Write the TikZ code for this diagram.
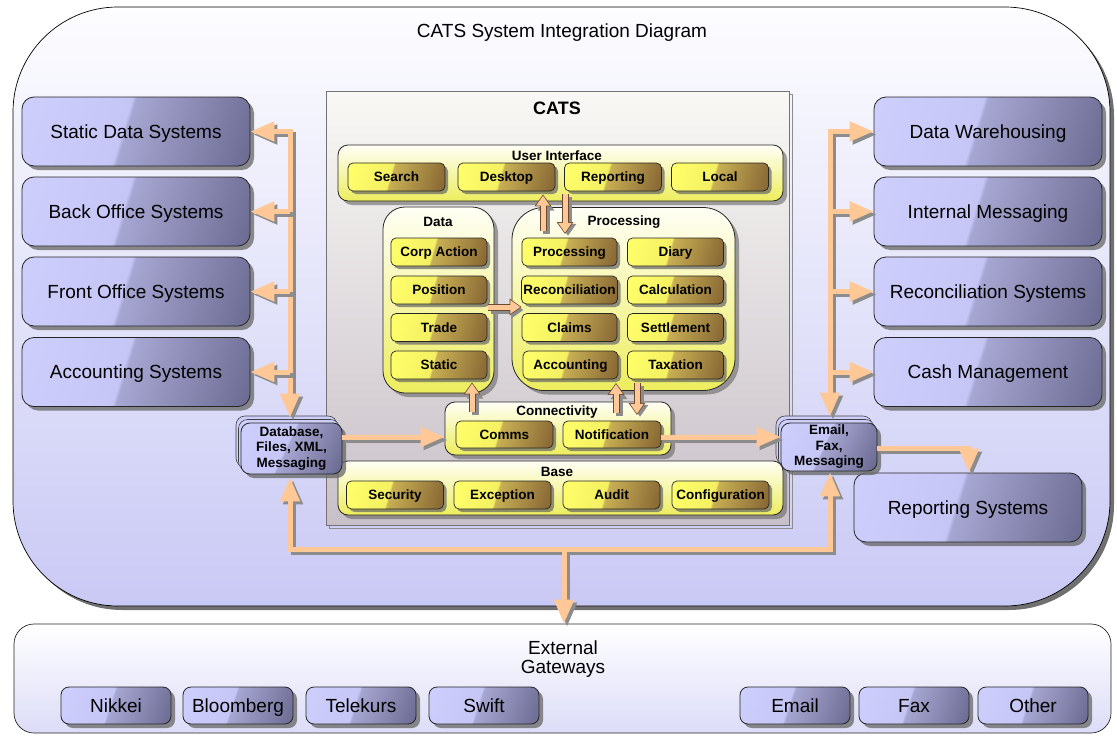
\documentclass[tikz,border=0pt]{standalone}
\usepackage{fontspec}
\setmainfont{Liberation Sans}
\usetikzlibrary{shadows,arrows.meta,calc}
\definecolor{lavA}{HTML}{CECEFD}
\definecolor{lavA2}{HTML}{C6C6F6}
\definecolor{lavB}{HTML}{A6A6D2}
\definecolor{lavC}{HTML}{696990}
\definecolor{yelA}{HTML}{FFFF6A}
\definecolor{yelA2}{HTML}{F4F062}
\definecolor{yelB}{HTML}{C8B054}
\definecolor{yelC}{HTML}{876634}
\definecolor{panTop}{HTML}{FFFFF6}
\definecolor{panBot}{HTML}{EDED5E}
\definecolor{peach}{HTML}{FFC896}
\definecolor{peachdark}{HTML}{6A4A30}
\definecolor{shgray}{HTML}{8C8C8C}
\definecolor{outTop}{HTML}{FDFDFF}
\definecolor{outBot}{HTML}{C9C9F5}
\definecolor{catsTop}{HTML}{F9F8F5}
\definecolor{catsBot}{HTML}{C8C0C8}
\definecolor{gwTop}{HTML}{FFFFFF}
\definecolor{gwBot}{HTML}{DCDCF8}
\pgfdeclarehorizontalshading{lavdiag}{100bp}{color(0bp)=(lavA); color(20bp)=(lavA); color(46.5bp)=(lavA2); color(47.5bp)=(lavB); color(82bp)=(lavC); color(100bp)=(lavC)}
\pgfdeclarehorizontalshading{yeldiag}{100bp}{color(0bp)=(yelA); color(20bp)=(yelA); color(46bp)=(yelA2); color(47bp)=(yelB); color(80bp)=(yelC); color(100bp)=(yelC)}
\tikzset{
  shad/.style={drop shadow={shadow xshift=4pt,shadow yshift=-4pt,fill=black!60,opacity=.75}},
  sysbox/.style={draw=black!85,line width=0.8pt,rounded corners=12pt,shading=lavdiag,shading angle=-17,
    minimum width=228pt,minimum height=69pt,inner sep=0pt,text height=13.6pt,text depth=0pt,
    font=\fontsize{19}{22}\selectfont,shad},
  gwbtn/.style={draw=black!85,line width=0.8pt,rounded corners=8pt,shading=lavdiag,shading angle=-18,
    minimum width=110pt,minimum height=37pt,inner sep=0pt,text height=13.6pt,text depth=0pt,
    font=\fontsize{19}{22}\selectfont,shad},
  stackbox/.style={draw=black!85,line width=0.8pt,rounded corners=9pt,shading=lavdiag,shading angle=-25,
    inner sep=0pt,align=center,font=\bfseries\fontsize{13.5}{15.5}\selectfont,
    drop shadow={shadow xshift=4pt,shadow yshift=-4pt,fill=black!60,opacity=.75},
    double copy shadow={shadow xshift=-2.5pt,shadow yshift=3.5pt,fill=lavA,draw=black!75,line width=0.6pt}},
  btn/.style={draw=black!85,line width=0.7pt,rounded corners=5pt,shading=yeldiag,shading angle=-16,
    minimum width=97pt,minimum height=28pt,inner sep=0pt,text height=9.7pt,text depth=0pt,
    font=\bfseries\fontsize{13.5}{16}\selectfont,
    drop shadow={shadow xshift=3pt,shadow yshift=-3pt,fill=black!60,opacity=.7}},
  panel/.style={draw=black!85,line width=0.8pt,rounded corners=10pt,top color=panTop,bottom color=panBot,
    inner sep=0pt,drop shadow={shadow xshift=4pt,shadow yshift=-4pt,fill=black!60,opacity=.6}},
  plabel/.style={font=\bfseries\fontsize{13.5}{16}\selectfont,inner sep=0pt},
  busarrow/.style={draw=peach,line width=5pt,-{Triangle[length=24pt,width=19pt]},
    preaction={draw=shgray,line width=5pt,-{Triangle[length=24pt,width=19pt]},transform canvas={xshift=3pt,yshift=-3pt}}},
  busarrows/.style={draw=peach,line width=5pt,{Triangle[length=24pt,width=19pt]}-{Triangle[length=24pt,width=19pt]},
    preaction={draw=shgray,line width=5pt,{Triangle[length=24pt,width=19pt]}-{Triangle[length=24pt,width=19pt]},transform canvas={xshift=3pt,yshift=-3pt}}},
  fat/.style={draw=peach,line width=5pt,-{Triangle[length=10pt,width=13pt]},shorten >=1.2pt,
    preaction={draw=shgray,line width=7pt,-{Triangle[length=12pt,width=16pt]},transform canvas={xshift=3pt,yshift=-3pt}},
    preaction={draw=peachdark,line width=7pt,-{Triangle[length=12pt,width=16pt]},shorten >=0pt}},
}
\begin{document}
\begin{tikzpicture}[x=1pt,y=-1pt]
\useasboundingbox (0,0) rectangle (1117,736);
% outer container
\node[draw=black,line width=0.7pt,rounded corners=105pt,top color=outTop,bottom color=outBot,
  minimum width=1097pt,minimum height=599pt,inner sep=0pt,
  drop shadow={shadow xshift=4pt,shadow yshift=-4pt,fill=black!70,opacity=.8}] (outer) at (561.5,306.5) {};
\node[font=\fontsize{19}{22}\selectfont] (title) at (562,33) {CATS System Integration Diagram};
% external gateways
\node[draw=black!85,line width=0.7pt,rounded corners=20pt,top color=gwTop,bottom color=gwBot,
  minimum width=1097pt,minimum height=109pt,inner sep=0pt] (gw) at (562.5,678.5) {};
\node[align=center,font=\fontsize{19}{19}\selectfont] (gwl) at (563,659) {External\\Gateways};
\node[gwbtn] (g1) at (116,705.5) {Nikkei};
\node[gwbtn] (g2) at (238,705.5) {Bloomberg};
\node[gwbtn] (g3) at (361,705.5) {Telekurs};
\node[gwbtn] (g4) at (484,705.5) {Swift};
\node[gwbtn] (g5) at (795,705.5) {Email};
\node[gwbtn] (g6) at (914,705.5) {Fax};
\node[gwbtn] (g7) at (1033,705.5) {Other};
% CATS box
\node[draw=black!45,line width=0.7pt,fill=none,minimum width=463pt,minimum height=434pt,inner sep=0pt] (catsback) at (561,311) {};
\node[draw=black!55,line width=0.7pt,top color=catsTop,bottom color=catsBot,minimum width=463pt,minimum height=434pt,inner sep=0pt] (cats) at (557.5,308) {};
\node[font=\bfseries\fontsize{18}{20}\selectfont] (catsl) at (557,108) {CATS};
% User interface
\node[panel,minimum width=445pt,minimum height=56pt] (ui) at (560.5,173) {};
\node[plabel] (uil) at (557,156) {User Interface};
\node[btn] (search) at (396.5,177) {Search};
\node[btn] (desk) at (506.5,177) {Desktop};
\node[btn] (rep) at (613,177) {Reporting};
\node[btn] (local) at (720,177) {Local};
% Data
\node[panel,rounded corners=22pt,minimum width=111pt,minimum height=186pt] (data) at (438.5,300) {};
\node[plabel] (datal) at (438,222) {Data};
\node[btn,minimum width=96pt] (corp) at (439,252) {Corp Action};
\node[btn,minimum width=96pt] (pos) at (439,290) {Position};
\node[btn,minimum width=96pt] (trade) at (439,327.5) {Trade};
\node[btn,minimum width=96pt] (static) at (439,365) {Static};
% Processing
\node[panel,rounded corners=32pt,minimum width=223pt,minimum height=183pt] (proc) at (623.5,299) {};
\node[plabel] (procl) at (624,222) {Processing};
\node[btn,minimum width=95pt] (pproc) at (569.5,252) {Processing};
\node[btn,minimum width=96pt] (recon) at (569.5,290) {Reconciliation};
\node[btn,minimum width=95pt] (claims) at (569.5,327.5) {Claims};
\node[btn,minimum width=95pt] (acct) at (570.5,365) {Accounting};
\node[btn,minimum width=96pt] (diary) at (675.5,252) {Diary};
\node[btn,minimum width=96pt] (calc) at (675.5,290) {Calculation};
\node[btn,minimum width=96pt] (settle) at (675.5,327.5) {Settlement};
\node[btn,minimum width=96pt] (tax) at (675.5,365) {Taxation};
% Connectivity
\node[panel,minimum width=226pt,minimum height=53pt] (conn) at (558,428.5) {};
\node[plabel] (connl) at (557,412) {Connectivity};
\node[btn,minimum width=97pt,minimum height=27pt] (comms) at (504.5,434.5) {Comms};
\node[btn,minimum width=98pt,minimum height=27pt] (notif) at (612,434.5) {Notification};
% Base
\node[panel,minimum width=445pt,minimum height=54pt] (base) at (560.5,488) {};
\node[plabel] (basel) at (557,472) {Base};
\node[btn] (sec) at (395,495) {Security};
\node[btn] (exc) at (502.5,495) {Exception};
\node[btn] (aud) at (611.5,495) {Audit};
\node[btn] (conf) at (720.5,495) {Configuration};
% side systems
\node[sysbox] (sds) at (136,131.5) {Static Data Systems};
\node[sysbox] (bos) at (136,211.5) {Back Office Systems};
\node[sysbox] (fos) at (136,291.5) {Front Office Systems};
\node[sysbox] (acs) at (136,372) {Accounting Systems};
\node[sysbox] (dw) at (988,131.5) {Data Warehousing};
\node[sysbox] (im) at (988,211.5) {Internal Messaging};
\node[sysbox] (rcs) at (988,291.5) {Reconciliation Systems};
\node[sysbox] (cm) at (988,372) {Cash Management};
\node[sysbox] (rs) at (968,507.5) {Reporting Systems};
% stacked interface boxes
\node[stackbox,minimum width=101pt,minimum height=51pt] (db) at (291.5,448.5) {Database,\\Files, XML,\\Messaging};
\node[stackbox,minimum width=96pt,minimum height=48pt] (em) at (829,447) {Email,\\Fax,\\Messaging};
% bus coordinates
\coordinate (LB) at (290,0);
\coordinate (RB) at (830,0);
\coordinate (BL) at (290,549);
\coordinate (BR) at (830,549);
\coordinate (BM) at (564,549);
\coordinate (CA) at (0,437);
\coordinate (RX) at (969,0);
\coordinate (ERx) at (0,448);
% left bus
\draw[busarrows] (sds.east) -- (LB |- sds.east) -- ($(LB |- db.north)+(0,-5)$);
\draw[busarrow] (LB |- bos.east) -- (bos.east);
\draw[busarrow] (LB |- fos.east) -- (fos.east);
\draw[busarrow] (LB |- acs.east) -- (acs.east);
% right bus
\draw[busarrows] (dw.west) -- (RB |- dw.west) -- ($(RB |- em.north)+(0,-6)$);
\draw[busarrow] (RB |- im.west) -- (im.west);
\draw[busarrow] (RB |- rcs.west) -- (rcs.west);
\draw[busarrow] (RB |- cm.west) -- (cm.west);
% bottom bus
\draw[busarrows] ($(BL |- db.south)+(0,3)$) -- (BL) -- (BR) -- ($(BR |- em.south)+(0,1)$);
\draw[busarrow] (BM) -- (BM |- gw.north);
% email to reporting
\draw[busarrow] (em.east |- ERx) -- (RX |- ERx) -- (RX |- rs.north);
% db to connectivity, notification to email
\draw[busarrow] (db.east |- CA) -- (conn.west |- CA);
\draw[busarrow] (notif.east |- CA) -- (em.west |- CA);
% small arrows
\coordinate (u1) at (543,231);
\coordinate (u2) at (565,194);
\coordinate (dp) at (488,307);
\coordinate (c1) at (472,412);
\coordinate (c2) at (616,413);
\coordinate (c3) at (637,383);
\draw[fat] (u1) -- ($(u1 |- ui.south)+(0,-7)$);
\draw[fat] (u2) -- (u2 |- 0,234);
\draw[fat] (dp) -- ($(proc.west |- dp)+(10,0)$);
\draw[fat] (c1) -- ($(c1 |- data.south)+(0,-11)$);
\draw[fat] (c2) -- ($(c2 |- proc.south)+(0,-8)$);
\draw[fat] (c3) -- (c3 |- 0,415);
\end{tikzpicture}
\end{document}
